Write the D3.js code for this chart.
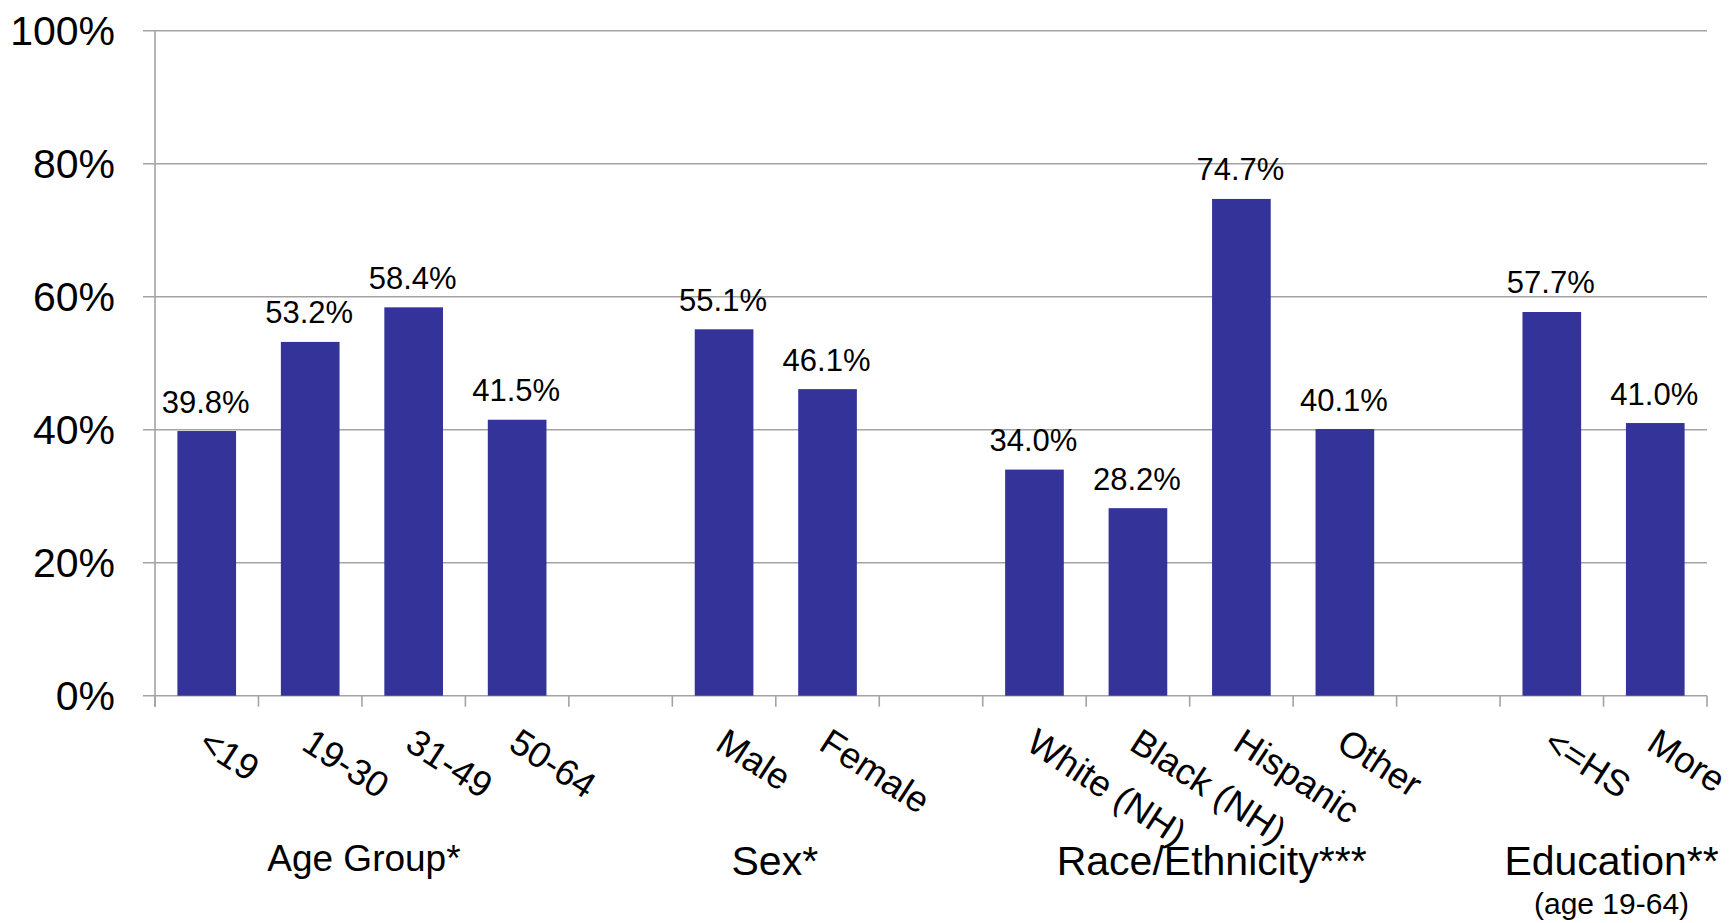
<!DOCTYPE html>
<html>
<head>
<meta charset="utf-8">
<script src="https://cdn.jsdelivr.net/npm/d3@7"></script>
<style>
  html, body { margin: 0; padding: 0; background: #fff; }
  svg { display: block; font-family: "Liberation Sans", Arial, Helvetica, sans-serif; }
</style>
</head>
<body>
<svg id="chart" width="1733" height="923"></svg>
<script>
// ---- data ----
const groups = ["Age Group*", "Sex*", "Race/Ethnicity***", "Education**"];
const groupNotes = ["", "", "", "(age 19-64)"];
const categories = [
  ["<19", "19-30", "31-49", "50-64"],
  ["Male", "Female"],
  ["White (NH)", "Black (NH)", "Hispanic", "Other"],
  ["<=HS", "More"]
];
const values = [
  [39.8, 53.2, 58.4, 41.5],
  [55.1, 46.1],
  [34.0, 28.2, 74.7, 40.1],
  [57.7, 41.0]
];
const yTicks = [0, 20, 40, 60, 80, 100];

// ---- layout ----
const plotLeft = 155, plotRight = 1707, plotTop = 30.7, plotBottom = 695.7;
const svg = d3.select("#chart");

// build slot list: categories with an empty slot between groups
const slots = [];
const rows = [];
groups.forEach((g, gi) => {
  categories[gi].forEach((c, ci) => {
    const key = gi + "|" + c;
    slots.push(key);
    rows.push({ key, label: c, value: values[gi][ci], group: gi });
  });
  if (gi < groups.length - 1) slots.push("gap" + gi);
});

const pad = 0.433;
const x = d3.scaleBand().domain(slots).range([plotLeft, plotRight])
  .paddingInner(pad).paddingOuter(pad / 2);
const step = x.step();
const slotStart = k => x(k) - step * pad / 2;
const slotCenter = k => x(k) + x.bandwidth() / 2;

const y = d3.scaleLinear().domain([0, 100]).range([plotBottom, plotTop]);

const gridColor = "#a3a3a3";

// gridlines + y tick marks
svg.append("g").selectAll("line").data(yTicks).join("line")
  .attr("x1", plotLeft - 12).attr("x2", plotRight)
  .attr("y1", d => y(d)).attr("y2", d => y(d))
  .attr("stroke", gridColor).attr("stroke-width", 1.6);

// y axis line
svg.append("line")
  .attr("x1", plotLeft).attr("x2", plotLeft)
  .attr("y1", y(100)).attr("y2", plotBottom + 11)
  .attr("stroke", gridColor).attr("stroke-width", 1.6);

// x tick marks at slot boundaries
const boundaries = slots.map(slotStart).concat([plotRight]);
svg.append("g").selectAll("line").data(boundaries).join("line")
  .attr("x1", d => d).attr("x2", d => d)
  .attr("y1", plotBottom).attr("y2", plotBottom + 11)
  .attr("stroke", gridColor).attr("stroke-width", 1.6);

// y tick labels
svg.append("g").selectAll("text").data(yTicks).join("text")
  .attr("x", 115).attr("y", d => y(d))
  .attr("dy", "0.358em")
  .attr("text-anchor", "end")
  .attr("font-size", 41)
  .attr("fill", "#000")
  .text(d => d + "%");

// bars
svg.append("g").selectAll("rect").data(rows).join("rect")
  .attr("x", d => x(d.key))
  .attr("width", x.bandwidth())
  .attr("y", d => y(d.value))
  .attr("height", d => y(0) - y(d.value))
  .attr("fill", "#333399");

// value labels
svg.append("g").selectAll("text").data(rows).join("text")
  .attr("x", d => slotCenter(d.key) - 1)
  .attr("y", d => y(d.value) - 18.5)
  .attr("text-anchor", "middle")
  .attr("font-size", 31)
  .attr("fill", "#000")
  .text(d => d.value.toFixed(1) + "%");

// category labels (rotated)
svg.append("g").selectAll("text").data(rows).join("text")
  .attr("transform", d => `translate(${slotCenter(d.key) + 4},${plotBottom + 31}) rotate(33)`)
  .attr("dy", "0.716em")
  .attr("text-anchor", "start")
  .attr("font-size", 36.5)
  .attr("fill", "#000")
  .text(d => d.label);

// group labels
const groupFont = [37, 41, 41, 41];
const groupDx = [2, -1, 22, 8];
const groupBase = [871, 875, 875, 875];
groups.forEach((g, gi) => {
  const keys = rows.filter(r => r.group === gi).map(r => r.key);
  const cx = (slotStart(keys[0]) + slotStart(keys[keys.length - 1]) + step) / 2;
  svg.append("text")
    .attr("x", cx + groupDx[gi]).attr("y", groupBase[gi])
    .attr("text-anchor", "middle")
    .attr("font-size", groupFont[gi])
    .attr("fill", "#000")
    .text(g);
  if (groupNotes[gi]) {
    svg.append("text")
      .attr("x", cx + groupDx[gi]).attr("y", 914)
      .attr("text-anchor", "middle")
      .attr("font-size", 30)
      .attr("fill", "#000")
      .text(groupNotes[gi]);
  }
});
</script>
</body>
</html>
